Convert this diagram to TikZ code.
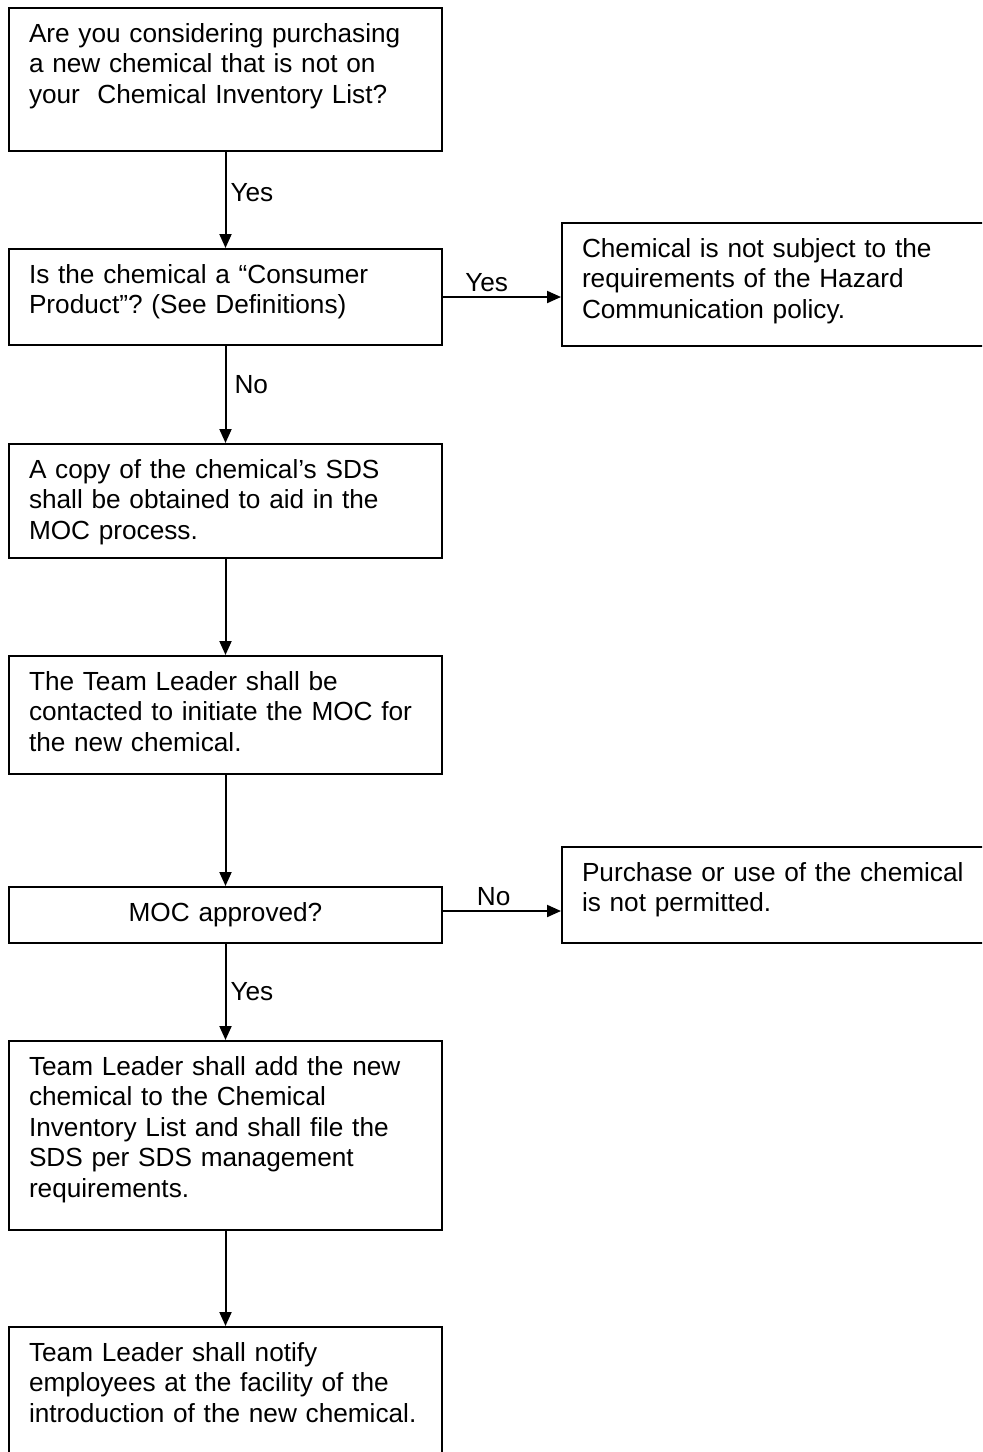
\documentclass[tikz,border=0pt]{standalone}
\usepackage{fontspec}
\setmainfont{Liberation Sans}
\usetikzlibrary{arrows.meta,positioning}
\frenchspacing

\begin{document}
\begin{tikzpicture}[x=0.5pt,y=-0.5pt,>={Triangle[length=7pt,width=6pt]},
    flowbox/.style={draw,line width=1pt,anchor=north west,text width=196.5pt,
      inner xsep=10pt,inner ysep=0pt,text height=17pt,align=left,
      font=\fontsize{13.1}{15.25}\selectfont},
    flowline/.style={->,line width=1pt},
    flowlabel/.style={font=\fontsize{13.1}{15.25}\selectfont,inner sep=2pt}]
  \useasboundingbox (0,0) rectangle (982,1452);
  \clip (0,0) rectangle (982,1452);
  % main column
  \node[flowbox,text depth=54.5pt] (purchase) at (8,7)
    {Are you considering purchasing\\a new chemical that is not on\\your\ \ Chemical Inventory List?};
  \node[flowbox,text depth=31pt] (consumer) at (8,248)
    {Is the chemical a “Consumer\\Product”? (See Definitions)};
  \node[flowbox,text depth=40pt] (sds) at (8,443)
    {A copy of the chemical’s SDS\\shall be obtained to aid in the\\MOC process.};
  \node[flowbox,text depth=42pt] (contact) at (8,655)
    {The Team Leader shall be\\contacted to initiate the MOC for\\the new chemical.};
  \node[flowbox,text depth=11pt,align=center] (approved) at (8,886)
    {MOC approved?};
  \node[flowbox,text depth=77.5pt] (addlist) at (8,1040)
    {Team Leader shall add the new\\chemical to the Chemical\\Inventory List and shall file the\\SDS per SDS management\\requirements.};
  \node[flowbox,text depth=58pt] (notify) at (8,1326)
    {Team Leader shall notify\\employees at the facility of the\\introduction of the new chemical.};
  % side boxes
  \node[flowbox,text depth=44.5pt] (exempt) at (561,222)
    {Chemical is not subject to the\\requirements of the Hazard\\Communication policy.};
  \node[flowbox,text depth=31pt] (denied) at (561,846)
    {Purchase or use of the chemical\\is not permitted.};
  % connectors
  \draw[flowline] (purchase) -- (consumer) node[flowlabel,midway,right,yshift=3.5pt]{Yes};
  \draw[flowline] (consumer) -- (sds) node[flowlabel,pos=0.4,right,xshift=2pt]{No};
  \draw[flowline] (sds) -- (contact);
  \draw[flowline] (contact) -- (approved);
  \draw[flowline] (approved) -- (addlist) node[flowlabel,midway,right]{Yes};
  \draw[flowline] (addlist) -- (notify);
  \draw[flowline] (consumer.east) -- (consumer.east -| exempt.west) node[flowlabel,pos=0.37,above]{Yes};
  \draw[flowline] ([yshift=2pt]approved.east) -- ([yshift=2pt]approved.east -| denied.west) node[flowlabel,pos=0.43,above]{No};
\end{tikzpicture}
\end{document}
